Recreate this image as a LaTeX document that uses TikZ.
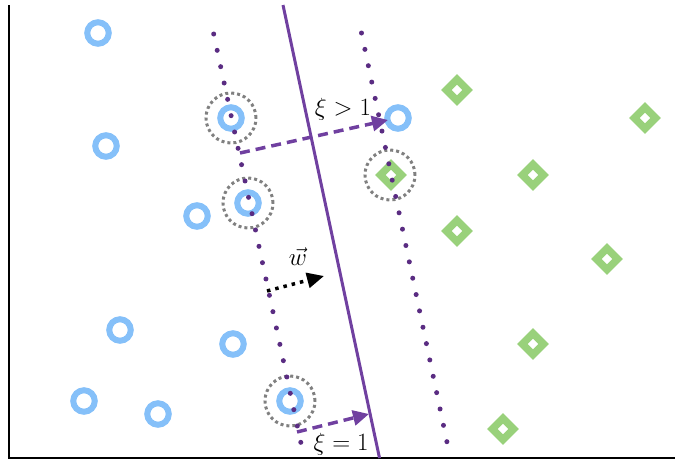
\documentclass[tikz,border=0pt]{standalone}
\usetikzlibrary{shapes.geometric,arrows.meta}
\definecolor{ptblue}{RGB}{133,192,249}
\definecolor{ptgreen}{RGB}{153,209,123}
\definecolor{hyp}{RGB}{112,64,160}
\definecolor{marg}{RGB}{90,44,130}
\definecolor{svgray}{RGB}{128,128,128}
\begin{document}
\begin{tikzpicture}[x=1pt,y=-1pt,
  bluept/.style={circle,draw=ptblue,line width=6pt,minimum size=21.5pt,inner sep=0pt,outer sep=0pt},
  greenpt/.style={rectangle,rotate=45,draw=ptgreen,line width=7.5pt,minimum size=15.1pt,inner sep=0pt,outer sep=0pt},
  svring/.style={circle,draw=svgray,line width=3pt,dash pattern=on 3pt off 3pt,minimum size=50pt,inner sep=0pt},
  margin/.style={draw=marg,line width=5pt,line cap=round,dash pattern=on 0pt off 16.7pt},
  hyperplane/.style={draw=hyp,line width=3pt},
  slack/.style={draw=hyp,line width=3.5pt,dash pattern=on 10pt off 6pt,-{Triangle[length=16pt,width=15pt]}},
  warrow/.style={draw=black,line width=3.5pt,dash pattern=on 3.5pt off 5pt,-{Triangle[length=17pt,width=15pt]}},
  lbl/.style={font=\fontsize{25}{29}\selectfont,inner sep=0pt,anchor=base}]
\useasboundingbox (0,0) rectangle (675,461);
% axes
\coordinate (o) at (9,458);
\coordinate (ytop) at (9,5);
\coordinate (xend) at (675,458);
\draw[line width=2pt] (ytop) -- (o) -- (xend);
% blue points
\node[bluept] (b1) at (98,33) {};
\node[bluept] (b2) at (106,146) {};
\node[bluept] (b3) at (197,216) {};
\node[bluept] (b4) at (120,330) {};
\node[bluept] (b5) at (233,344) {};
\node[bluept] (b6) at (84,401) {};
\node[bluept] (b7) at (158,414) {};
\node[bluept] (b8) at (231,118) {};
\node[bluept] (b9) at (248,203) {};
\node[bluept] (b10) at (290,401) {};
\node[bluept] (b11) at (398,118) {};
% green points
\node[greenpt] (g1) at (457,90) {};
\node[greenpt] (g2) at (645,118) {};
\node[greenpt] (g3) at (533,175) {};
\node[greenpt] (g4) at (391,175) {};
\node[greenpt] (g5) at (457,231) {};
\node[greenpt] (g6) at (607,259) {};
\node[greenpt] (g7) at (533,344) {};
\node[greenpt] (g8) at (503,429) {};
% support vector rings
\node[svring] (s1) at (231,118) {};
\node[svring] (s2) at (248,203) {};
\node[svring] (s3) at (290,401) {};
\node[svring] (s4) at (390,175) {};
% margins
\coordinate (m1a) at (213.7,34);
\coordinate (m1b) at (302,448);
\coordinate (m2a) at (361.5,33);
\coordinate (m2b) at (448,447);
\draw[margin] (m1a) -- (m1b);
\draw[margin] (m2a) -- (m2b);
% hyperplane
\coordinate (h1) at (283,5);
\coordinate (h2) at (379.5,458);
\draw[hyperplane] (h1) -- (h2);
% slack arrows
\coordinate (x1) at (240,153);
\coordinate (x1e) at (388,120);
\draw[slack] (x1) -- (x1e);
\coordinate (x2) at (297,432);
\coordinate (x2e) at (369,414);
\draw[slack] (x2) -- (x2e);
% w arrow
\coordinate (w1) at (267,291);
\coordinate (w2) at (324,276);
\draw[warrow] (w1) -- (w2);
% labels
\node[lbl] (l1) at (343,115) {$\xi>1$};
\node[lbl] (l2) at (341,450) {$\xi=1$};
\node[lbl] (l3) at (298,265) {$\vec{w}$};
\end{tikzpicture}
\end{document}
